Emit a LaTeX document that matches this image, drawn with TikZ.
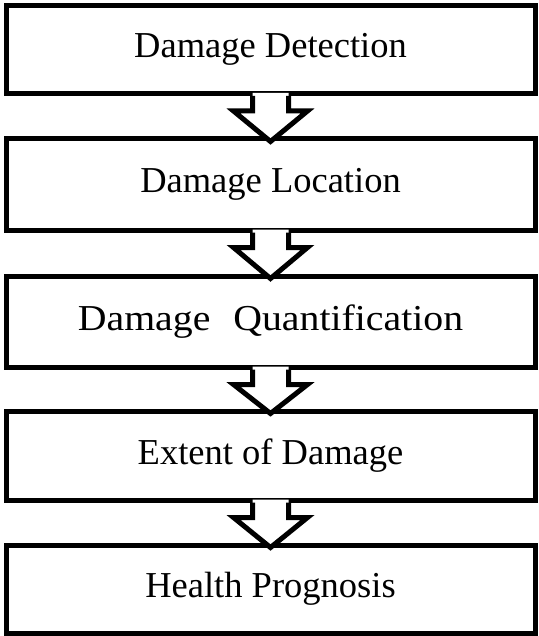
\documentclass[tikz,border=0pt]{standalone}
\usepackage{fontspec}
\setmainfont{Liberation Serif}
\begin{document}
\begin{tikzpicture}[x=1pt,y=-1pt,
  stepbox/.style={draw=black, line width=5pt, fill=white, rectangle,
    minimum width=529pt, inner sep=0pt,
    font=\fontsize{36.5}{40}\selectfont},
  flowline/.style={draw=black, line width=5pt, line join=miter}]
\useasboundingbox (0,0) rectangle (538,636);

\node[stepbox, minimum height=88pt] (b1) at (270.5,49.5)  {Damage Detection};
\node[stepbox, minimum height=91pt] (b2) at (270.5,184.5) {Damage Location};
\node[stepbox, minimum height=91pt] (b3) at (270.5,321.5)
  {\scalebox{1.09}[1]{Damage\hspace{21pt}Quantification}};
\node[stepbox, minimum height=89pt] (b4) at (270.5,455.5) {Extent of Damage};
\node[stepbox, minimum height=88pt] (b5) at (270.5,589)   {Health Prognosis};

% hollow block arrow from the bottom of one box to the top of the next
\newcommand\blockarrow[2]{%
  \begin{scope}[shift={(#1.south)}]
    \fill[white] (-18,-3) -- (-18,15) -- (-37,15) -- ([yshift=-5pt]#2.north)
      -- (37,15) -- (18,15) -- (18,-3) -- cycle;
    \draw[flowline] (-18,0) -- (-18,15) -- (-37,15) -- ([yshift=-5pt]#2.north)
      -- (37,15) -- (18,15) -- (18,0);
  \end{scope}}

\blockarrow{b1}{b2}
\blockarrow{b2}{b3}
\blockarrow{b3}{b4}
\blockarrow{b4}{b5}
\end{tikzpicture}
\end{document}
